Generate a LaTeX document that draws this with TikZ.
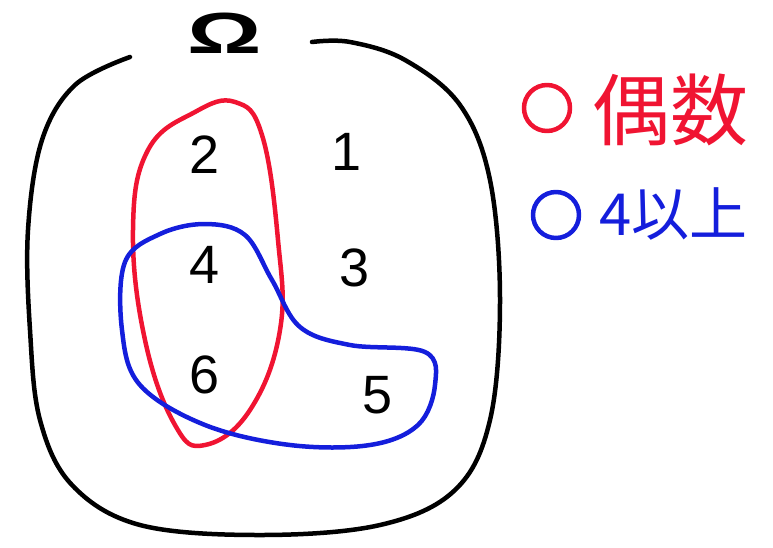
\documentclass[tikz,border=0pt]{standalone}
\usepackage{fontspec}
\setmainfont{Liberation Sans}
\newfontfamily\cjk{Noto Sans CJK JP}
\begin{document}
\begin{tikzpicture}[x=1pt,y=-1pt,
  pen/.style={line width=4.5pt,line cap=round,line join=round},
  num/.style={font=\fontsize{54}{54}\selectfont,inner sep=0pt},
  leg/.style={inner sep=0pt,anchor=west}]
\definecolor{penred}{RGB}{240,20,50}
\definecolor{penblue}{RGB}{20,30,220}
\useasboundingbox (0,0) rectangle (773,547);
% outer set
\draw[pen] plot[smooth,tension=0.6] coordinates {(130,57) (75,85) (42,140) (28,230) (30,330) (40,420) (72,485) (140,525) (260,535) (380,525) (455,490) (490,420) (500,300) (490,180) (460,105) (405,60) (350,42) (312,42)};
\node[font=\fontsize{58}{58}\selectfont\bfseries,inner sep=0pt,xscale=1.6] (omega) at (225,33) {Ω};
% red set
\draw[pen,penred] plot[smooth cycle,tension=0.7] coordinates {(235,102) (262,135) (278,240) (280,330) (250,410) (205,445) (175,425) (145,340) (133,230) (148,150) (195,112)};
% blue set
\draw[pen,penblue] plot[smooth cycle,tension=0.6] coordinates {(205,224) (245,235) (272,280) (300,327) (350,345) (425,352) (435,385) (418,425) (370,445) (290,445) (205,425) (140,385) (122,330) (125,262) (160,234)};
% numbers
\node[num] (n2) at (205,155) {2};
\node[num] (n1) at (347,152) {1};
\node[num] (n4) at (205,265) {4};
\node[num] (n3) at (355,268) {3};
\node[num] (n6) at (205,375) {6};
\node[num] (n5) at (378,395) {5};
% legend
\draw[pen,penred] (547,108) circle (23);
\node[leg,text=penred,font=\cjk\fontsize{78}{78}\selectfont] (even) at (592,110) {偶数};
\draw[pen,penblue] (556,215) circle (23);
\node[leg,text=penblue,font=\cjk\fontsize{58}{58}\selectfont] (ge4) at (599,214) {4以上};
\end{tikzpicture}
\end{document}
